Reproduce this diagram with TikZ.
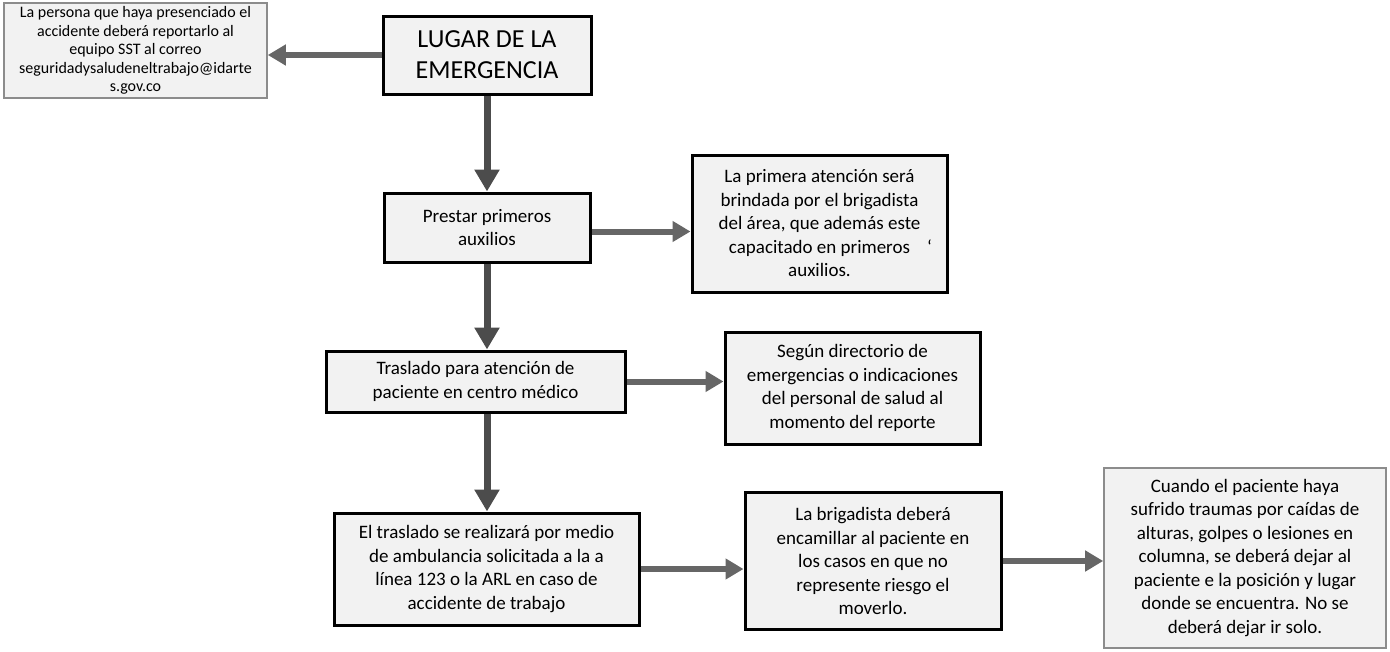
\documentclass[tikz,border=0pt]{standalone}
\usepackage{fontspec}
\setmainfont{Carlito}
\usetikzlibrary{arrows.meta}
\newcommand\fbody{\fontsize{19}{23.5}\selectfont}
\newcommand\ftl{\fontsize{16}{18.5}\selectfont}
\newcommand\fbig{\fontsize{26}{31}\selectfont}
\tikzset{
  mainbox/.style={draw=black, line width=3pt, fill=black!5, inner sep=0pt, align=center, font=\fbody},
  softbox/.style={draw=black!45, line width=1.6pt, fill=black!5, inner sep=0pt, align=center, font=\fbody},
  hflow/.style={draw=black!60, line width=6pt, -{Triangle[width=20pt,length=18pt]}},
  vflow/.style={draw=black!70, line width=7pt, -{Triangle[width=24pt,length=22pt]}},
}
\begin{document}
\begin{tikzpicture}[x=1pt,y=-1pt]
\useasboundingbox (0,0) rectangle (1390,651);
\node[softbox, font=\ftl, minimum width=263pt, minimum height=95pt] (tl) at (135.5,50.5)
  {La persona que haya presenciado el\\accidente deberá reportarlo al\\equipo SST al correo\\seguridadysaludeneltrabajo@idarte\\s.gov.co};
\node[mainbox, font=\fbig, minimum width=208pt, minimum height=78pt] (lugar) at (487,55)
  {LUGAR DE LA\\EMERGENCIA};
\node[mainbox, minimum width=206pt, minimum height=69pt] (prestar) at (487,227.5)
  {Prestar primeros\\auxilios};
\node[mainbox, minimum width=255pt, minimum height=137pt] (b1) at (819.5,223.5)
  {La primera atención será\\brindada por el brigadista\\del área, que además este\\capacitado en primeros\rlap{\hspace{0.9em}\symbol{96}}\\auxilios.};
\node[mainbox, minimum width=299pt, minimum height=61pt] (tras) at (475.5,381.5)
  {Traslado para atención de\\paciente en centro médico};
\node[mainbox, minimum width=255pt, minimum height=112pt] (b2) at (852.5,388)
  {Según directorio de\\emergencias o indicaciones\\del personal de salud al\\momento del reporte};
\node[mainbox, minimum width=305pt, minimum height=112pt] (bl) at (486.5,569)
  {El traslado se realizará por medio\\de ambulancia solicitada a la a\\línea 123 o la ARL en caso de\\accidente de trabajo};
\node[mainbox, minimum width=256pt, minimum height=137pt] (bm) at (873,561)
  {La brigadista deberá\\encamillar al paciente en\\los casos en que no\\represente riesgo el\\moverlo.};
\node[softbox, minimum width=282pt, minimum height=180pt] (br) at (1245,558)
  {Cuando el paciente haya\\sufrido traumas por caídas de\\alturas, golpes o lesiones en\\columna, se deberá dejar al\\paciente e la posición y lugar\\donde se encuentra. No se\\deberá dejar ir solo.};
\draw[hflow] (lugar.west) -- (tl.east |- lugar.west);
\draw[vflow] (lugar.south) -- (prestar.north);
\draw[hflow] ([yshift=-4pt]prestar.east) -- ([yshift=-4pt]prestar.east -| b1.west);
\draw[vflow] (prestar.south) -- (prestar.south |- tras.north);
\draw[hflow] (tras.east) -- (tras.east -| b2.west);
\draw[vflow] (prestar.south |- tras.south) -- (prestar.south |- bl.north);
\draw[hflow] (bl.east) -- (bl.east -| bm.west);
\draw[hflow] (bm.east) -- (bm.east -| br.west);
\end{tikzpicture}
\end{document}
